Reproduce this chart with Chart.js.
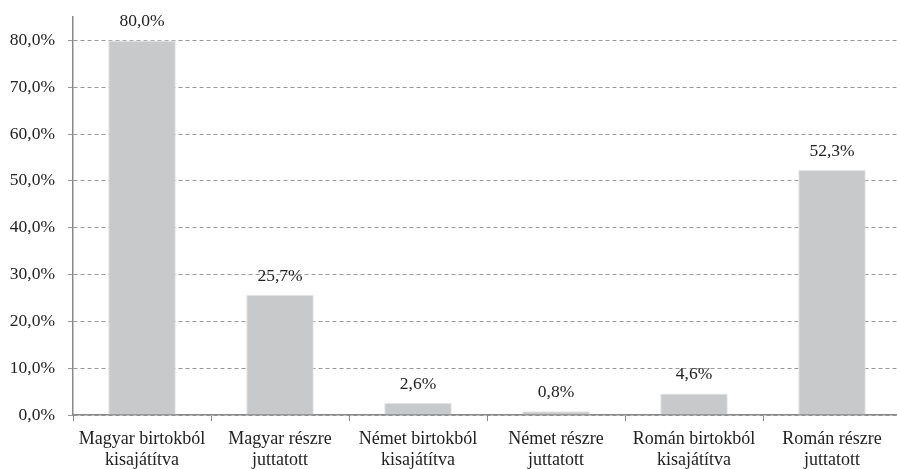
<!DOCTYPE html>
<html>
<head>
<meta charset="utf-8">
<script src="https://cdn.jsdelivr.net/npm/chart.js@4/dist/chart.umd.min.js"></script>
<style>
  html, body { margin: 0; padding: 0; background: #fff; overflow: hidden; }
  #wrap { width: 901px; height: 469px; }
</style>
</head>
<body>
<div id="wrap"><canvas id="chart"></canvas></div>
<script>
var categories = [
    ['Magyar birtokból', 'kisajátítva'],
    ['Magyar részre', 'juttatott'],
    ['Német birtokból', 'kisajátítva'],
    ['Német részre', 'juttatott'],
    ['Román birtokból', 'kisajátítva'],
    ['Román részre', 'juttatott']
];
var shares = [80.0, 25.7, 2.6, 0.8, 4.6, 52.3];
var yTicks = [0, 10, 20, 30, 40, 50, 60, 70, 80];

function pct(v) {
    return v.toFixed(1).replace('.', ',') + '%';
}

// value labels over the bars
var barLabels = {
    id: 'barLabels',
    afterDatasetsDraw: function (chart) {
        var ctx = chart.ctx;
        var meta = chart.getDatasetMeta(0);
        ctx.save();
        ctx.font = '17.5px "Liberation Serif", serif';
        ctx.fillStyle = '#222';
        ctx.textAlign = 'center';
        ctx.textBaseline = 'alphabetic';
        meta.data.forEach(function (bar, i) {
            ctx.fillText(pct(shares[i]), bar.x, bar.y - 14);
        });
        ctx.restore();
    }
};

var ctx = document.getElementById('chart').getContext('2d');
var chart = new Chart(ctx, {
    type: 'bar',
    data: {
        labels: categories,
        datasets: [{
            data: shares,
            backgroundColor: '#c8c9ca',
            borderColor: '#e4e5e6',
            borderWidth: 1,
            categoryPercentage: 1,
            barPercentage: 0.49
        }]
    },
    options: {
        responsive: true,
        maintainAspectRatio: false,
        animation: false,
        layout: { padding: { top: 17, right: 0, bottom: 0, left: 0 } },
        plugins: {
            legend: { display: false },
            tooltip: { enabled: false }
        },
        scales: {
            x: {
                afterFit: function (scale) {
                    scale.height = 54;
                },
                grid: {
                    drawOnChartArea: false,
                    drawTicks: true,
                    tickLength: 6,
                    tickColor: '#888'
                },
                border: { display: true, color: '#888', width: 1.5 },
                ticks: {
                    color: '#222',
                    padding: 8,
                    maxRotation: 0,
                    autoSkip: false,
                    font: { family: '"Liberation Serif", serif', size: 18, lineHeight: 1.17 }
                }
            },
            y: {
                min: 0,
                max: 85,
                afterBuildTicks: function (scale) {
                    scale.ticks = yTicks.map(function (v) { return { value: v }; });
                },
                afterFit: function (scale) {
                    scale.width = 73;
                    scale.paddingTop = 0;
                    scale.paddingBottom = 0;
                },
                grid: {
                    color: '#999',
                    tickLength: 5,
                    tickColor: '#999'
                },
                border: { display: true, color: '#888', width: 1.5, dash: [4, 3] },
                ticks: {
                    color: '#222',
                    padding: 13,
                    font: { family: '"Liberation Serif", serif', size: 17.5 },
                    callback: function (v) { return pct(v); }
                }
            }
        }
    },
    plugins: [barLabels]
});
</script>
</body>
</html>
